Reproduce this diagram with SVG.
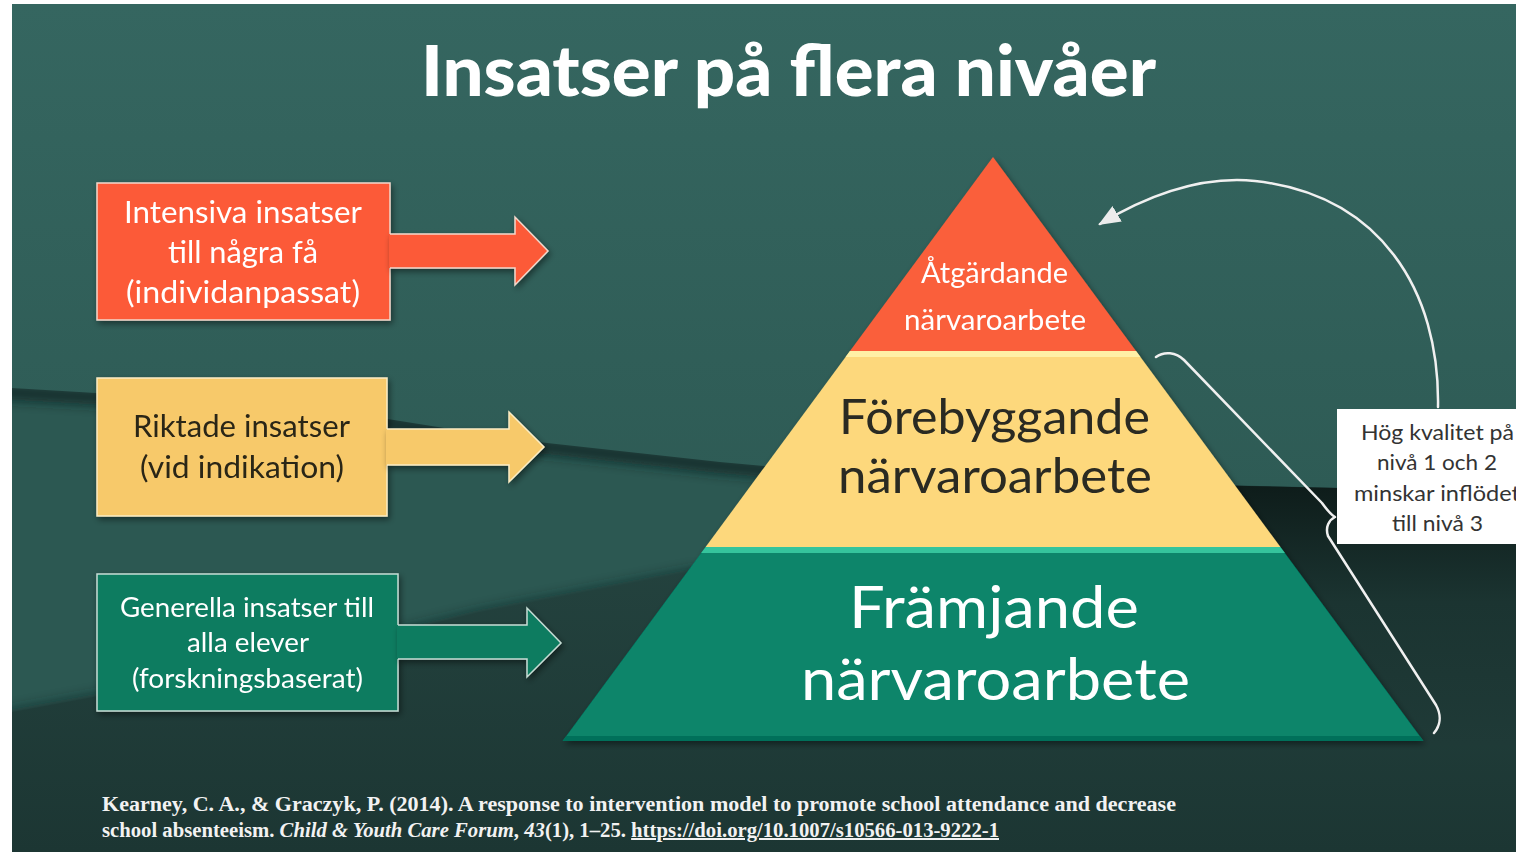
<svg xmlns="http://www.w3.org/2000/svg" width="1516" height="852" viewBox="0 0 1516 852">
<style>
.sans{font-family:Lato,"Open Sans","Noto Sans",sans-serif;}
.w{fill:#ffffff;}
.dk{fill:#2a2518;}
.cite{font-family:"Liberation Serif","DejaVu Serif",serif;font-weight:700;font-size:20px;fill:#f2f2f2;}
.line{fill:none;stroke:#f0f0f0;stroke-width:2.5;stroke-linecap:round;stroke-linejoin:round;}
</style>
<defs>
<linearGradient id="gTop" x1="0" y1="0" x2="0" y2="1"><stop offset="0" stop-color="#356660"/><stop offset="1" stop-color="#2e5b55"/></linearGradient>
<linearGradient id="gLow" gradientUnits="userSpaceOnUse" x1="0" y1="540" x2="0" y2="852"><stop offset="0" stop-color="#24433f"/><stop offset="1" stop-color="#1c3633"/></linearGradient>
<linearGradient id="gRight" gradientUnits="userSpaceOnUse" x1="0" y1="485" x2="0" y2="745"><stop offset="0" stop-color="#0e1c1a"/><stop offset="0.45" stop-color="#1b3431"/><stop offset="1" stop-color="#1f3a37"/></linearGradient>
<clipPath id="bgclip"><rect x="12" y="4" width="1504" height="848"/></clipPath>
<filter id="blur" x="-5%" y="-50%" width="110%" height="200%"><feGaussianBlur stdDeviation="6"/></filter>
<filter id="sh" x="-10%" y="-10%" width="130%" height="130%"><feDropShadow dx="2" dy="3" stdDeviation="3" flood-color="#000" flood-opacity="0.45"/></filter>
<marker id="ah" viewBox="0 0 22 18" refX="20" refY="9" markerWidth="22" markerHeight="18" markerUnits="userSpaceOnUse" orient="auto"><path d="M0,0 L22,9 L0,18 z" fill="#ececec"/></marker>
</defs>

<g id="background">
<rect x="0" y="0" width="1516" height="852" fill="#ffffff"/>
<g clip-path="url(#bgclip)">
<rect x="12" y="4" width="1504" height="848" fill="#2c5852"/>
<path d="M0,392 L300,409 L520,444 L720,466 L900,482 L1260,490 L1516,496" fill="none" stroke="#0f2220" stroke-width="14" opacity="0.8" filter="url(#blur)"/>
<polygon points="12,4 1516,4 1516,492 1260,486 900,478 720,462 520,440 300,405 12,388" fill="url(#gTop)"/>
<path d="M0,718 L250,672 L480,616 L700,574" fill="none" stroke="#0f2220" stroke-width="12" opacity="0.6" filter="url(#blur)"/>
<polygon points="12,712 250,668 480,612 700,570 1000,560 1280,540 1516,560 1516,852 12,852" fill="url(#gLow)"/>
<polygon points="1200,485 1516,492 1516,745 1420,745" fill="url(#gRight)"/>
</g>
</g>

<g id="title">
<text x="421" y="96" textLength="735" lengthAdjust="spacingAndGlyphs" style="font-family:Lato,'Open Sans',sans-serif;font-weight:900;font-size:70px;fill:#ffffff;">Insatser på flera nivåer</text>
</g>

<g id="box-intensiva" filter="url(#sh)">
<rect x="97" y="183" width="293" height="137" fill="#fc5a37" stroke="#f3d8cc" stroke-width="1.5"/>
<text class="sans w" font-size="30" x="124" y="223" textLength="238" lengthAdjust="spacingAndGlyphs">Intensiva insatser</text>
<text class="sans w" font-size="30" x="168" y="263" textLength="150" lengthAdjust="spacingAndGlyphs">till några få</text>
<text class="sans w" font-size="30" x="126" y="303" textLength="234" lengthAdjust="spacingAndGlyphs">(individanpassat)</text>
</g>

<g id="box-riktade" filter="url(#sh)">
<rect x="97" y="378" width="290" height="138" fill="#f7c96a" stroke="#fbecc4" stroke-width="1.5"/>
<text class="sans dk" font-size="30" x="133" y="437" textLength="217" lengthAdjust="spacingAndGlyphs">Riktade insatser</text>
<text class="sans dk" font-size="30" x="140" y="478" textLength="204" lengthAdjust="spacingAndGlyphs">(vid indikation)</text>
</g>

<g id="box-generella" filter="url(#sh)">
<rect x="97" y="574" width="301" height="137" fill="#0d7b61" stroke="#c6ddd5" stroke-width="1.5"/>
<text class="sans w" font-size="26" x="120" y="617" textLength="254" lengthAdjust="spacingAndGlyphs">Generella insatser till</text>
<text class="sans w" font-size="26" x="187" y="652" textLength="122" lengthAdjust="spacingAndGlyphs">alla elever</text>
<text class="sans w" font-size="26" x="132" y="688" textLength="231" lengthAdjust="spacingAndGlyphs">(forskningsbaserat)</text>
</g>

<g id="pyramid" filter="url(#sh)">
<g id="level3">
<polygon points="993,157 1136,351 850,351" fill="#fa5e3a"/>
<text class="sans w" font-size="28" x="921" y="283" textLength="147" lengthAdjust="spacingAndGlyphs">Åtgärdande</text>
<text class="sans w" font-size="28" x="904" y="330" textLength="182" lengthAdjust="spacingAndGlyphs">närvaroarbete</text>
</g>
<g id="level2">
<polygon points="850,351 1136,351 1280.4,547 705.6,547" fill="#fdd87c"/>
<polygon points="850,351 1136,351 1140.4,357 845.6,357" fill="#fff0a6"/>
<text class="sans" fill="#2a2a22" font-size="48" x="839" y="434" textLength="311" lengthAdjust="spacingAndGlyphs">Förebyggande</text>
<text class="sans" fill="#2a2a22" font-size="48" x="838" y="493" textLength="314" lengthAdjust="spacingAndGlyphs">närvaroarbete</text>
</g>
<g id="level1">
<polygon points="705.6,547 1280.4,547 1423.4,741 562.6,741" fill="#07856a"/>
<polygon points="705.6,547 1280.4,547 1284.9,553 701.1,553" fill="#35c49c"/>
<polygon points="566.3,736 1419.7,736 1423.4,741 562.6,741" fill="#06705a"/>
<text class="sans w" font-size="59" x="849" y="628" textLength="290" lengthAdjust="spacingAndGlyphs">Främjande</text>
<text class="sans w" font-size="59" x="801" y="700" textLength="389" lengthAdjust="spacingAndGlyphs">närvaroarbete</text>
</g>
</g>

<g id="note-box">
<rect x="1337" y="409" width="190" height="135" fill="#ffffff"/>
<text class="sans" fill="#333333" font-size="22" x="1361" y="440" textLength="153" lengthAdjust="spacingAndGlyphs">Hög kvalitet på</text>
<text class="sans" fill="#333333" font-size="22" x="1377" y="470" textLength="120" lengthAdjust="spacingAndGlyphs">nivå 1 och 2</text>
<text class="sans" fill="#333333" font-size="22" x="1354" y="501" textLength="166" lengthAdjust="spacingAndGlyphs">minskar inflödet</text>
<text class="sans" fill="#333333" font-size="22" x="1392" y="531" textLength="91" lengthAdjust="spacingAndGlyphs">till nivå 3</text>
</g>

<g id="connectors">
<g id="arrow-intensiva" filter="url(#sh)">
<polygon points="389,234 515,234 515,217 548,251 515,285 515,268 389,268" fill="#fc5a37"/>
<polyline points="390,234 515,234 515,217 548,251 515,285 515,268 390,268" fill="none" stroke="#f3d8cc" stroke-width="1.5"/>
</g>
<g id="arrow-riktade" filter="url(#sh)">
<polygon points="386,429 509,429 509,412 544,447 509,482 509,465 386,465" fill="#f7c96a"/>
<polyline points="387,429 509,429 509,412 544,447 509,482 509,465 387,465" fill="none" stroke="#fbecc4" stroke-width="1.5"/>
</g>
<g id="arrow-generella" filter="url(#sh)">
<polygon points="397,625 527,625 527,608 561,643 527,677 527,659 397,659" fill="#0d7b61"/>
<polyline points="398,625 527,625 527,608 561,643 527,677 527,659 398,659" fill="none" stroke="#c6ddd5" stroke-width="1.5"/>
</g>
<path id="feedback-arrow" class="line" d="M1438,407 C1440,290 1380,195 1255,181 C1195,175 1140,200 1100,224" marker-end="url(#ah)"/>
<path id="brace" class="line" d="M1156,357 C1164,351 1176,352 1184,360 L1322,503 C1327,510 1330,514 1335,517 C1329,520 1325,527 1328,536 L1436,705 C1442,716 1440,726 1434,733"/>
</g>

<g id="citation">
<text class="cite" x="102" y="811" textLength="1074" lengthAdjust="spacingAndGlyphs">Kearney, C. A., &amp; Graczyk, P. (2014). A response to intervention  model to promote school attendance and decrease</text>
<text class="cite" x="102" y="837" textLength="897" lengthAdjust="spacingAndGlyphs">school absenteeism. <tspan font-style="italic">Child &amp; Youth Care Forum</tspan>, <tspan font-style="italic">43</tspan>(1), 1–25. <tspan text-decoration="underline">https://doi.org/10.1007/s10566-013-9222-1</tspan></text>
</g>
</svg>
